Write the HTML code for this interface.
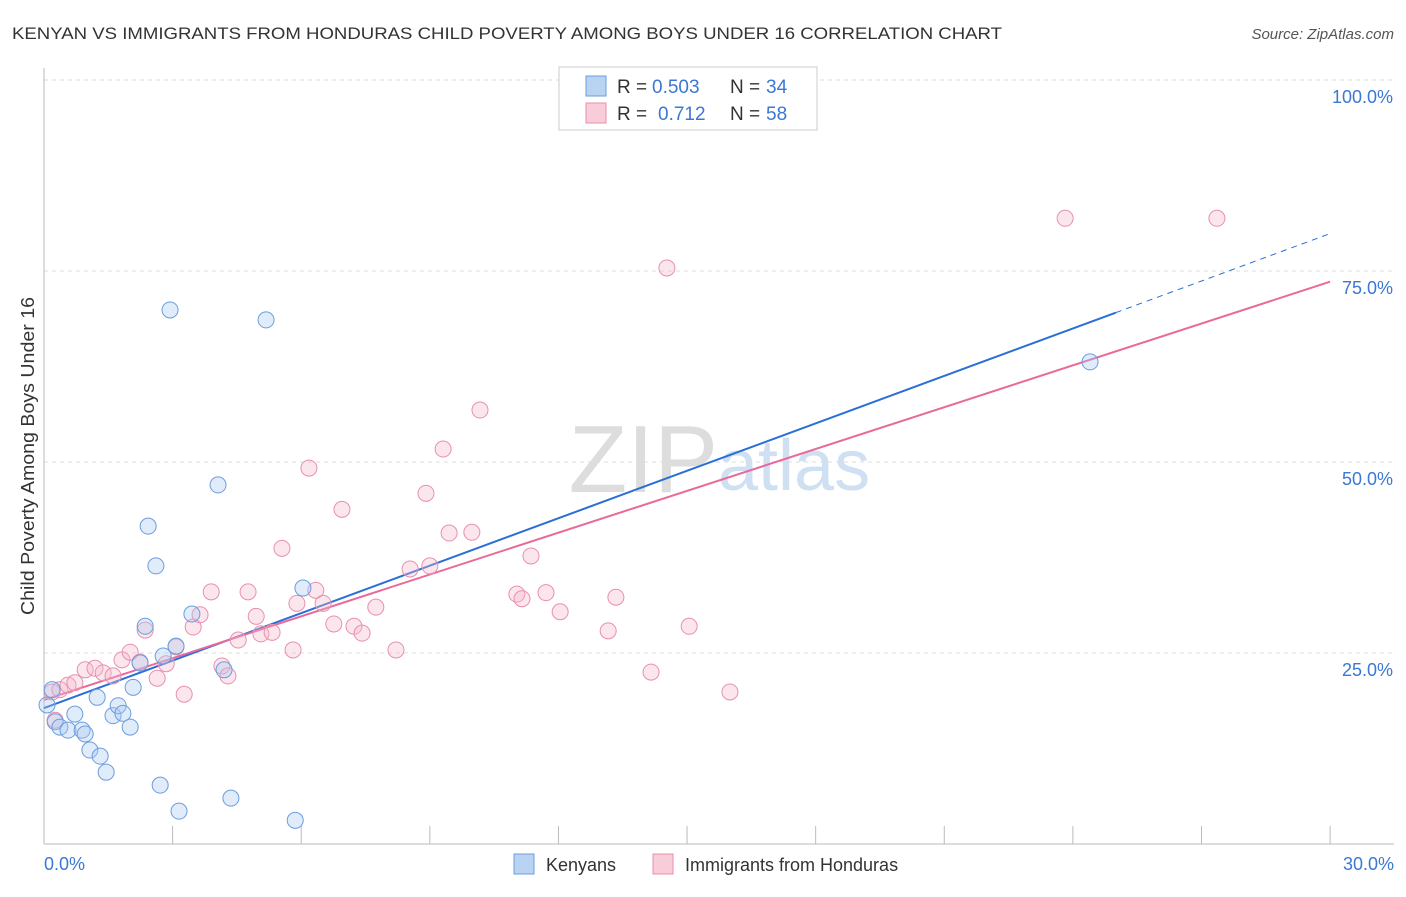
<!DOCTYPE html>
<html><head><meta charset="utf-8"><style>
body{margin:0;background:#fff;font-family:"Liberation Sans",sans-serif}
svg text{font-family:"Liberation Sans",sans-serif}
</style></head><body>
<svg id="c" width="1406" height="892">
<text x="12" y="39" font-size="17" fill="#333" textLength="990" lengthAdjust="spacingAndGlyphs">KENYAN VS IMMIGRANTS FROM HONDURAS CHILD POVERTY AMONG BOYS UNDER 16 CORRELATION CHART</text>
<text x="1394" y="39" font-size="15" fill="#555" font-style="italic" text-anchor="end">Source: ZipAtlas.com</text>
<text x="718" y="492" font-size="96" fill="#ddd" text-anchor="end" font-family="Liberation Serif">ZIP</text>
<text x="718" y="490" font-size="72" fill="#cfe0f3">atlas</text>
<g id="grid"></g><g id="axes"></g><g id="lines"></g><g id="pts"></g>
<text x="34" y="456" font-size="18" fill="#333" transform="rotate(-90 34 456)" text-anchor="middle" textLength="318" lengthAdjust="spacingAndGlyphs">Child Poverty Among Boys Under 16</text>
<g>
<rect x="559" y="67" width="258" height="63" fill="#fff" stroke="#ccc"/>
<rect x="586" y="76" width="20" height="20" fill="#b9d3f3" stroke="#6a9de0"/>
<text x="617" y="93" font-size="19" fill="#333">R = </text><text x="652" y="93" font-size="19" fill="#3a78d4">0.503</text>
<text x="730" y="93" font-size="19" fill="#333">N = </text><text x="766" y="93" font-size="19" fill="#3a78d4">34</text>
<rect x="586" y="103" width="20" height="20" fill="#f9ccd9" stroke="#e890ac"/>
<text x="617" y="120" font-size="19" fill="#333">R = </text><text x="658" y="120" font-size="19" fill="#3a78d4">0.712</text>
<text x="730" y="120" font-size="19" fill="#333">N = </text><text x="766" y="120" font-size="19" fill="#3a78d4">58</text>
</g>
<g>
<rect x="514" y="854" width="20" height="20" fill="#b9d3f3" stroke="#6a9de0"/>
<text x="546" y="871" font-size="18" fill="#333">Kenyans</text>
<rect x="653" y="854" width="20" height="20" fill="#f9ccd9" stroke="#e890ac"/>
<text x="685" y="871" font-size="18" fill="#333">Immigrants from Honduras</text>
</g>
</svg>
<script>
const kenX=[0.19,0.07,0.26,0.37,0.56,0.72,0.89,0.96,1.07,1.24,1.31,1.45,1.61,1.73,1.84,2.01,2.08,2.24,2.36,2.43,2.61,2.71,2.78,2.94,3.08,3.15,3.45,4.06,4.20,4.36,5.18,5.86,6.04,24.40];
const kenY=[20.2,18.2,16.0,15.3,14.9,17.0,14.9,14.4,12.3,19.2,11.5,9.4,16.8,18.1,17.1,15.3,20.5,23.7,28.5,41.6,36.4,7.7,24.6,69.9,25.9,4.3,30.1,47.0,22.8,6.0,68.6,3.1,33.5,63.1];
const honX=[0.19,0.26,0.37,0.56,0.72,0.96,1.19,1.38,1.61,1.82,2.01,2.24,2.36,2.64,2.85,3.08,3.27,3.48,3.64,3.90,4.15,4.29,4.53,4.76,4.95,5.06,5.32,5.55,5.81,5.90,6.18,6.34,6.51,6.76,6.95,7.23,7.42,7.74,8.21,8.54,8.91,9.00,9.31,9.45,9.98,10.17,11.03,11.15,11.36,11.71,12.04,13.16,13.34,14.16,14.53,15.05,16.00,23.82,27.36];
const honY=[19.9,16.2,20.2,20.8,21.1,22.8,23.0,22.4,22.0,24.1,25.1,23.8,28.0,21.7,23.6,25.8,19.6,28.4,30.0,33.0,23.3,22.0,26.7,33.0,29.8,27.5,27.7,38.7,25.4,31.5,49.2,33.2,31.5,28.8,43.8,28.5,27.6,31.0,25.4,36.0,45.9,36.4,51.7,40.7,40.8,56.8,32.7,32.1,37.7,32.9,30.4,27.9,32.3,22.5,75.4,28.5,19.9,81.9,81.9];
const yTicks=[25,50,75,100];
const yTickLabels=["25.0%","50.0%","75.0%","100.0%"];
const xTicks=[0,3,6,9,12,15,18,21,24,27,30];
const kenTrend=[17.8,2.07,25];
const honTrend=[18.85,1.825];
const X=v=>44+v*42.87, Y=v=>844-v*7.64;
const NS="http://www.w3.org/2000/svg";
function mk(p,t,a){const e=document.createElementNS(NS,t);for(const k in a)e.setAttribute(k,a[k]);document.getElementById(p).appendChild(e);return e;}
yTicks.forEach((t,i)=>{
const g=mk('grid','line',{x1:44,x2:1394,y1:Y(t),y2:Y(t),stroke:'#ddd','stroke-dasharray':'4,4'});


const l=mk('grid','text',{x:1393,y:Y(t)+23,'font-size':18,fill:'#3a78d4','text-anchor':'end'});l.textContent=yTickLabels[i];


});
const ax=mk('axes','line',{x1:44,x2:1394,y1:844,y2:844,stroke:'#bbb'});


const ay=mk('axes','line',{x1:44,x2:44,y1:68,y2:844,stroke:'#bbb'});


xTicks.forEach(t=>{const k=mk('axes','line',{x1:X(t),x2:X(t),y1:826,y2:844,stroke:'#bbb'});

});
let t0=mk('axes','text',{x:44,y:870,'font-size':18,fill:'#3a78d4'});t0.textContent='0.0%';


let t1=mk('axes','text',{x:1394,y:870,'font-size':18,fill:'#3a78d4','text-anchor':'end'});t1.textContent='30.0%';


function pts(xs,ys,f,s,n){xs.forEach((x,i)=>{const c=mk('pts','circle',{cx:X(x),cy:Y(ys[i]),r:8,fill:f,'fill-opacity':0.35,stroke:s,'stroke-width':1});

});}
pts(honX,honY,'#f5b8cb','#e890ac','honduras-point');
pts(kenX,kenY,'#a8c8f0','#6a9de0','kenyan-point');
const a=kenTrend;
let l1=mk('lines','line',{x1:X(0),y1:Y(a[0]),x2:X(a[2]),y2:Y(a[0]+a[1]*a[2]),stroke:'#2a6fd6','stroke-width':2});


let l2=mk('lines','line',{x1:X(a[2]),y1:Y(a[0]+a[1]*a[2]),x2:X(30),y2:Y(a[0]+a[1]*30),stroke:'#2a6fd6','stroke-width':1,'stroke-dasharray':'6,5'});


let l3=mk('lines','line',{x1:X(0),y1:Y(honTrend[0]),x2:X(30),y2:Y(honTrend[0]+honTrend[1]*30),stroke:'#e8699a','stroke-width':2});


</script>
</body></html>
